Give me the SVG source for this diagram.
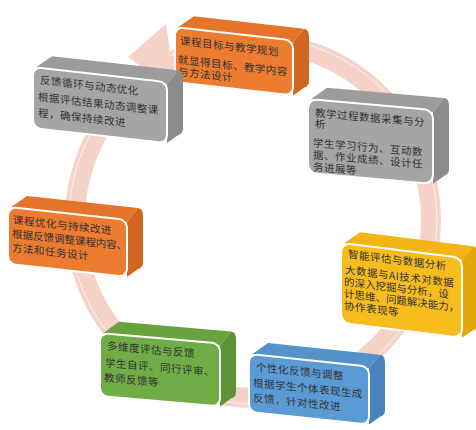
<svg xmlns="http://www.w3.org/2000/svg" width="476" height="430" viewBox="0 0 476 430">
<style>
.t{font-family:"Noto Sans CJK SC","Noto Sans CJK TC",sans-serif;font-size:10.5px;fill:#333;letter-spacing:0.5px}
.tn{letter-spacing:0}
.front{stroke:#fff;stroke-width:2}
.or .front{fill:#EC7C30}.or .top{fill:#E47429}.or .side{fill:#D06620}
.gr .front{fill:#A5A5A5}.gr .top{fill:#9C9C9C}.gr .side{fill:#8C8C8C}
.ye .front{fill:#F7BD1F}.ye .top{fill:#F2B515}.ye .side{fill:#E2A70C}
.bl .front{fill:#5B9BD5}.bl .top{fill:#5592CB}.bl .side{fill:#4882BC}
.gn .front{fill:#70AD47}.gn .top{fill:#68A340}.gn .side{fill:#5C9337}
</style>
<rect width="476" height="430" fill="#fff"/>
<g id="connectors">
<circle cx="253" cy="220" r="178" fill="none" stroke="#F5D3C9" stroke-width="20"/>
<circle cx="253" cy="220" r="184" fill="none" stroke="#fff" stroke-width="1" opacity="0.7"/>
<polygon points="128,57 166,24 176,92" fill="#F5D3C9"/>
</g>
<g id="box1" class="or" transform="translate(175,27) skewY(6.5)">
<polygon class="top" points="3,0 19,-13 129,-13 118,2"/>
<path class="side" d="M118,2 L129,-13 Q134,-13 134,-6 L134,39 Q134,44 129,46 L118,55 Z"/>
<rect class="front" x="0" y="0" width="118" height="55" rx="8"/>
<text class="t" x="5" y="17">课程目标与教学规划</text>
<text class="t" x="3" y="36">就显得目标、教学内容</text>
<text class="t" x="3" y="48">与方法设计</text>
</g>
<g id="box2" class="gr" transform="translate(33,67) skewY(6.4)">
<polygon class="top" points="3,0 19,-13 145,-13 134,2"/>
<path class="side" d="M134,2 L145,-13 Q150,-13 150,-6 L150,45 Q150,50 145,52 L134,61 Z"/>
<rect class="front" x="0" y="0" width="134" height="61" rx="8"/>
<text class="t" x="7" y="16">反馈循环与动态优化</text>
<text class="t" x="5" y="33">根据评估结果动态调整课</text>
<text class="t" x="5" y="49">程，确保持续改进</text>
</g>
<g id="box3" class="gr" transform="translate(308,99) skewY(5)">
<polygon class="top" points="3,0 19,-13 136,-13 125,2"/>
<path class="side" d="M125,2 L136,-13 Q141,-13 141,-6 L141,58 Q141,63 136,65 L125,74 Z"/>
<rect class="front" x="0" y="0" width="125" height="74" rx="9"/>
<text class="t" x="7" y="17">教学过程数据采集与分</text>
<text class="t" x="7" y="28">析</text>
<text class="t" x="5" y="47">学生学习行为、互动数</text>
<text class="t" x="5" y="59">据、作业成绩、设计任</text>
<text class="t" x="5" y="71">务进展等</text>
</g>
<g id="box4" class="ye" transform="translate(341,243) skewY(7)">
<polygon class="top" points="3,0 19,-13 132,-13 121,2"/>
<path class="side" d="M121,2 L132,-13 Q137,-13 137,-6 L137,64 Q137,69 132,71 L121,80 Z"/>
<rect class="front" x="0" y="0" width="121" height="80" rx="9"/>
<text class="t" x="7" y="14">智能评估与数据分析</text>
<text class="t" x="4" y="30">大数据与AI技术对数据</text>
<text class="t tn" x="3" y="42">的深入挖掘与分析，设</text>
<text class="t tn" x="3" y="54">计思维、问题解决能力，</text>
<text class="t" x="3" y="66">协作表现等</text>
</g>
<g id="box5" class="bl" transform="translate(249,354) skewY(6)">
<polygon class="top" points="3,0 19,-13 131,-13 120,2"/>
<path class="side" d="M120,2 L131,-13 Q136,-13 136,-6 L136,42 Q136,47 131,49 L120,58 Z"/>
<rect class="front" x="0" y="0" width="120" height="58" rx="8"/>
<text class="t" x="7" y="16">个性化反馈与调整</text>
<text class="t" x="4" y="32">根据学生个体表现生成</text>
<text class="t" x="4" y="47">反馈，针对性改进</text>
</g>
<g id="box6" class="gn" transform="translate(100,333) skewY(5)">
<polygon class="top" points="3,0 19,-13 131,-13 120,2"/>
<path class="side" d="M120,2 L131,-13 Q136,-13 136,-6 L136,47 Q136,52 131,54 L120,63 Z"/>
<rect class="front" x="0" y="0" width="120" height="63" rx="8"/>
<text class="t" x="7" y="16">多维度评估与反馈</text>
<text class="t" x="5" y="33">学生自评、同行评审、</text>
<text class="t" x="4" y="48">教师反馈等</text>
</g>
<g id="box7" class="or" transform="translate(8,207) skewY(6.2)">
<polygon class="top" points="3,0 19,-13 130,-13 119,2"/>
<path class="side" d="M119,2 L130,-13 Q135,-13 135,-6 L135,41 Q135,46 130,48 L119,57 Z"/>
<rect class="front" x="0" y="0" width="119" height="57" rx="8"/>
<text class="t" x="5" y="16">课程优化与持续改进</text>
<text class="t tn" x="4" y="30">根据反馈调整课程内容、</text>
<text class="t" x="4" y="44">方法和任务设计</text>
</g>
</svg>
